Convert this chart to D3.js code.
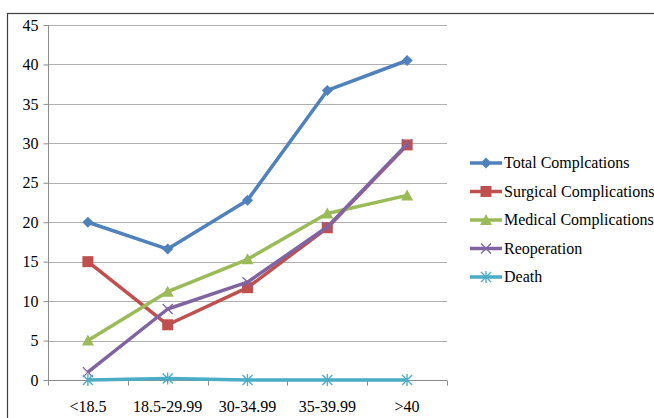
<!DOCTYPE html>
<html>
<head>
<meta charset="utf-8">
<script src="https://cdn.jsdelivr.net/npm/d3@7"></script>
<style>
  body { margin: 0; background: #fff; }
  text { font-family: "Liberation Serif", serif; fill: #000; }
</style>
</head>
<body>
<svg id="chart" width="654" height="418"></svg>
<script>
var categories = ["<18.5", "18.5-29.99", "30-34.99", "35-39.99", ">40"];
var yTicks = [0, 5, 10, 15, 20, 25, 30, 35, 40, 45];

var seriesNames = ["Total Complcations", "Surgical Complications", "Medical Complications", "Reoperation", "Death"];
var totalValues = [20.0, 16.6, 22.8, 36.7, 40.5];
var surgicalValues = [15.0, 7.0, 11.7, 19.3, 29.8];
var medicalValues = [5.0, 11.2, 15.3, 21.1, 23.4];
var reopValues = [1.0, 9.0, 12.4, 19.4, 29.9];
var deathValues = [0.0, 0.2, 0.0, 0.0, 0.0];

var seriesColors = ["#4f81bd", "#c0504d", "#9bbb59", "#8064a2", "#4bacc6"];
var seriesMarkers = ["diamond", "square", "triangle", "x", "star"];

var allValues = [totalValues, surgicalValues, medicalValues, reopValues, deathValues];

var svg = d3.select("#chart");

// outer frame
svg.append("rect")
    .attr("x", 7.5).attr("y", 13.5)
    .attr("width", 660).attr("height", 420)
    .attr("fill", "none")
    .attr("stroke", "#404040")
    .attr("stroke-width", 1.2);

var plotLeft = 48, plotRight = 447, plotTop = 25, plotBottom = 380;

var x = d3.scaleBand().domain(categories).range([plotLeft, plotRight]);
var y = d3.scaleLinear().domain([0, 45]).range([plotBottom, plotTop]);

// gridlines
svg.append("g")
  .selectAll("line")
  .data(yTicks.filter(function(d) { return d > 0; }))
  .join("line")
    .attr("x1", plotLeft).attr("x2", plotRight)
    .attr("y1", function(d) { return Math.round(y(d)) + 0.5; })
    .attr("y2", function(d) { return Math.round(y(d)) + 0.5; })
    .attr("stroke", "#b0b0b0")
    .attr("stroke-width", 1);

// y axis
var yAxis = d3.axisLeft(y).tickValues(yTicks).tickSize(5).tickPadding(5);
var gy = svg.append("g")
    .attr("transform", "translate(" + (plotLeft + 0.5) + ",0)")
    .call(yAxis);
gy.selectAll("path, line").attr("stroke", "#8c8c8c");
gy.select(".domain").attr("d", "M0," + plotTop + "V" + plotBottom);
gy.selectAll("text")
    .style("font-family", "Liberation Serif, serif")
    .style("font-size", "16px")
    .attr("fill", "#000");

// x axis: ticks at band boundaries
var gx = svg.append("g").attr("transform", "translate(0," + (plotBottom + 0.5) + ")");
gx.append("line")
    .attr("x1", plotLeft).attr("x2", plotRight)
    .attr("stroke", "#8c8c8c");
var bounds = categories.map(function(c) { return x(c); }).concat([plotRight]);
gx.selectAll("line.tick")
  .data(bounds)
  .join("line")
    .attr("class", "tick")
    .attr("x1", function(d) { return Math.round(d) + 0.5; })
    .attr("x2", function(d) { return Math.round(d) + 0.5; })
    .attr("y1", 0).attr("y2", 5)
    .attr("stroke", "#8c8c8c");
gx.selectAll("text")
  .data(categories)
  .join("text")
    .attr("x", function(d) { return x(d) + x.bandwidth() / 2; })
    .attr("y", 31)
    .attr("text-anchor", "middle")
    .style("font-size", "16px")
    .text(function(d) { return d; });

function drawMarker(g, type, color) {
  if (type == "diamond") {
    g.append("path").attr("d", "M0,-5.5L5.5,0L0,5.5L-5.5,0Z").attr("fill", color);
  } else if (type == "square") {
    g.append("rect").attr("x", -5.5).attr("y", -5.5).attr("width", 11).attr("height", 11).attr("fill", color);
  } else if (type == "triangle") {
    g.append("path").attr("d", "M0,-6L6,5L-6,5Z").attr("fill", color);
  } else if (type == "x") {
    g.append("path").attr("d", "M-5,-5L5,5M-5,5L5,-5").attr("stroke", color).attr("stroke-width", 1.3);
  } else if (type == "star") {
    g.append("path").attr("d", "M-5,-5L5,5M-5,5L5,-5M0,-6V6").attr("stroke", color).attr("stroke-width", 1.3);
  }
}

var line = d3.line()
    .x(function(d, i) { return x(categories[i]) + x.bandwidth() / 2; })
    .y(function(d) { return y(d); });

allValues.forEach(function(vals, s) {
  var g = svg.append("g");
  g.append("path")
      .datum(vals)
      .attr("d", line)
      .attr("fill", "none")
      .attr("stroke", seriesColors[s])
      .attr("stroke-width", 3.5)
      .attr("stroke-linejoin", "round");
  vals.forEach(function(v, i) {
    var m = g.append("g")
        .attr("transform", "translate(" + (x(categories[i]) + x.bandwidth() / 2) + "," + y(v) + ")");
    drawMarker(m, seriesMarkers[s], seriesColors[s]);
  });
});

// legend
var legend = svg.append("g");
seriesNames.forEach(function(name, s) {
  var ly = 163 + s * 28.5;
  var row = legend.append("g").attr("transform", "translate(470," + ly + ")");
  row.append("line")
      .attr("x1", 0).attr("x2", 32)
      .attr("stroke", seriesColors[s])
      .attr("stroke-width", 3.5);
  var m = row.append("g").attr("transform", "translate(16,0)");
  drawMarker(m, seriesMarkers[s], seriesColors[s]);
  row.append("text")
      .attr("x", 34).attr("y", 5)
      .style("font-size", "16px")
      .text(name);
});
</script>
</body>
</html>
